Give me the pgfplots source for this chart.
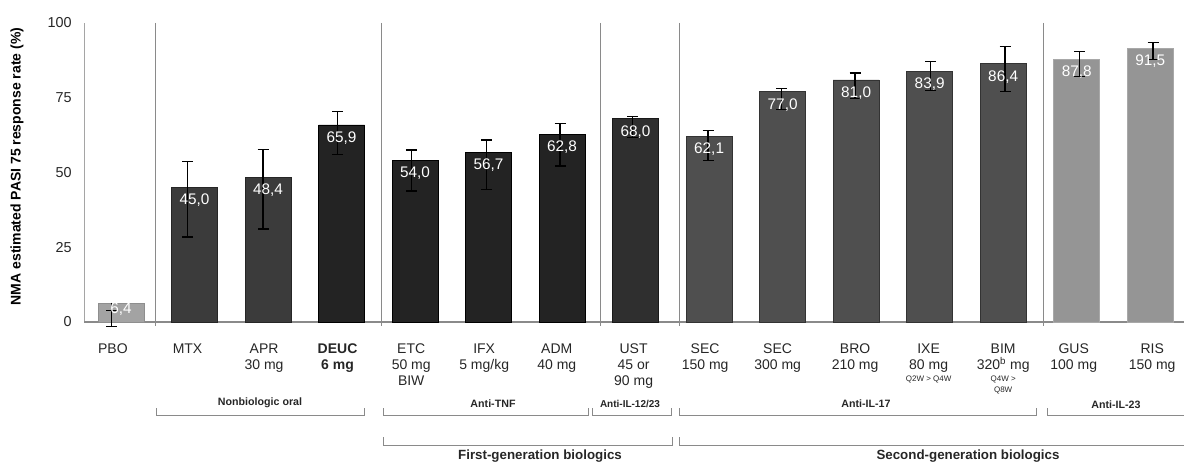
\documentclass[border=0pt]{standalone}
\usepackage{pgfplots}
\pgfplotsset{compat=1.18}
\usetikzlibrary{arrows.meta}
\usepackage{fontspec}
\setmainfont{Liberation Sans}

% bar shades
\definecolor{cPBO}{HTML}{A3A3A3}
\definecolor{cPBOedge}{HTML}{8E8E8E}
\definecolor{cOral}{HTML}{3B3B3B}
\definecolor{cDark}{HTML}{232323}
\definecolor{cUST}{HTML}{2F2F2F}
\definecolor{cIL17}{HTML}{4F4F4F}
\definecolor{cIL23}{HTML}{959595}
\definecolor{cIL23edge}{HTML}{A8A8A8}
\definecolor{cRule}{HTML}{8A8A8A}
\definecolor{cRuleLight}{HTML}{A5A5A5}

\pgfplotsset{
  valbar/.style={
    ybar, bar width=34.5pt, bar shift=0pt,
    nodes near coords={\pgfmathprintnumber[fixed,fixed zerofill,precision=1,use comma,assume math mode=true]{\pgfplotspointmeta}},
    every node near coord/.append style={anchor=center, text=white,
      font=\fontsize{11.5}{13}\selectfont, yshift=#1},
  },
}

\begin{document}
\begin{tikzpicture}
\path[use as bounding box] (0,0) rectangle (888pt,348pt);
\begin{axis}[
  at={(63.19pt,106.5pt)}, anchor=south west,
  scale only axis, width=824.8pt, height=224.25pt,
  xmin=-0.5, xmax=14.46, ymin=0, ymax=100,
  clip=false,
  axis line style={draw=none},
  major tick length=0pt,
  ytick={0,25,50,75,100},
  xtick={-0.11,0.905,1.946,2.946,3.948,4.94,5.928,6.973,7.946,8.932,9.986,10.986,12.0,12.96,14.027},
  xticklabels={
    PBO,
    MTX,
    {APR\\30 mg},
    {\textbf{DEUC}\\\textbf{6 mg}},
    {ETC\\50 mg\\BIW},
    {IFX\\5 mg/kg},
    {ADM\\40 mg},
    {UST\\45 or\\90 mg},
    {SEC\\150 mg},
    {SEC\\300 mg},
    {BRO\\210 mg},
    {IXE\\80 mg\\[-3pt]{\fontsize{6}{7}\selectfont Q2W > Q4W}},
    {BIM\\320\textsuperscript{b} mg\\[-3pt]{\fontsize{6}{7}\selectfont Q4W >}\\[-4pt]{\fontsize{6}{7}\selectfont Q8W}},
    {GUS\\100 mg},
    {RIS\\150 mg}
  },
  xticklabel style={align=center, anchor=north, font=\fontsize{10.5}{12}\selectfont, yshift=-13pt, text=black!85},
  yticklabel style={font=\fontsize{10.8}{13}\selectfont, xshift=-6pt, text=black!85},
  /pgf/number format/assume math mode=true,
  ylabel={NMA estimated PASI 75 response rate (\%)},
  every axis y label/.style={at={(axis description cs:-0.0612,0.52)}, rotate=90, anchor=center,
    font=\bfseries\fontsize{10.5}{12}\selectfont},
]

% axis lines
\draw[cRuleLight, line width=0.8pt] (axis cs:-0.5,0) -- (axis cs:-0.5,100);
\draw[cRule, line width=0.8pt] (axis cs:-0.5,0) -- (axis cs:14.6,0);

% group separators
\draw[cRule, line width=0.8pt] (axis cs:0.463,100) -- (axis cs:0.463,-1.4);
\draw[cRule, line width=0.8pt] (axis cs:3.54,100) -- (axis cs:3.54,-1.4);
\draw[cRule, line width=0.8pt] (axis cs:6.52,100) -- (axis cs:6.52,-1.4);
\draw[cRule, line width=0.8pt] (axis cs:7.6,100) -- (axis cs:7.6,-1.4);
\draw[cRule, line width=0.8pt] (axis cs:12.55,100) -- (axis cs:12.55,-1.4);

% bars
\addplot[valbar=-4.5pt, fill=cPBO, draw=cPBOedge] coordinates {(0,6.4)};
\addplot[valbar=-9.75pt, fill=cOral, draw=black!85] coordinates {(1,45.0) (2,48.4)};
\addplot[valbar=-9.75pt, fill=cDark, draw=black] coordinates {(3,65.9) (4,54.0) (5,56.7) (6,62.8)};
\addplot[valbar=-9.75pt, fill=cUST, draw=black!90] coordinates {(7,68.0)};
\addplot[valbar=-9.75pt, fill=cIL17, draw=black!80] coordinates {(8,62.1) (9,77.0) (10,81.0) (11,83.9) (12,86.4)};
\addplot[valbar=-9.75pt, fill=cIL23, draw=cIL23edge] coordinates {(13,87.8) (14,91.5)};

% 95% credible intervals, capped at both ends
\addplot[draw=none,
  error bars/.cd, y dir=both, y explicit,
  error mark=none,
  error bar style={draw=black, line width=1pt, -{Bar[width=8.2pt, line width=1pt]}}]
coordinates {
  (-0.13,6.4)  += (0,-2.7) -= (0,8.2)
  (0.905,45.0) += (0,8.8)  -= (0,16.8)
  (1.932,48.4) += (0,9.6)  -= (0,17.5)
  (2.946,65.9) += (0,4.8)  -= (0,10.0)
  (3.948,54.0) += (0,3.8)  -= (0,10.4)
  (4.973,56.7) += (0,4.4)  -= (0,12.6)
  (5.973,62.8) += (0,3.9)  -= (0,10.9)
  (6.96,68.0)  += (0,1.0)  -= (0,6.6)
  (7.986,62.1) += (0,2.1)  -= (0,8.3)
  (8.986,77.0) += (0,1.4)  -= (0,6.1)
  (9.986,81.0) += (0,2.5)  -= (0,6.5)
  (11.014,83.9) += (0,3.5) -= (0,6.6)
  (12.027,86.4) += (0,5.9) -= (0,9.6)
  (13.04,87.8) += (0,2.9)  -= (0,6.0)
  (14.04,91.5) += (0,2.1)  -= (0,3.9)
};
\end{axis}

% class brackets below the categories
\begin{scope}[x=0.75pt, y=-0.75pt, yshift=348pt, line width=0.75pt]
  \tikzset{grp/.style={font=\bfseries\fontsize{8}{9}\selectfont, text=black!85, inner sep=0pt}}
  % first row
  \draw[cRule] (156.7,408) -- (156.7,415.7) -- (364.3,415.7) -- (364.3,408);
  \draw[cRule] (383.3,408) -- (383.3,415.7) -- (588.3,415.7) -- (588.3,408);
  \draw[cRule] (592.7,408) -- (592.7,415.7) -- (671,415.7) -- (671,408);
  \draw[cRule] (679,408) -- (679,415.7) -- (1036.7,415.7) -- (1036.7,408);
  \draw[cRule] (1047.7,408) -- (1047.7,415.7) -- (1200,415.7);
  \node[grp] at (260,403) {Nonbiologic oral};
  \node[grp] at (493,404) {Anti-TNF};
  \node[grp, font=\bfseries\fontsize{7.5}{9}\selectfont] at (630,404) {Anti-IL-12/23};
  \node[grp] at (866,404) {Anti-IL-17};
  \node[grp] at (1116,405) {Anti-IL-23};
  % second row
  \draw[cRule] (383.3,437) -- (383.3,445) -- (672.7,445) -- (672.7,437);
  \draw[cRule] (679,437) -- (679,445) -- (1300,445);
  \node[grp, font=\bfseries\fontsize{10}{12}\selectfont] at (540,456.5) {First-generation biologics};
  \node[grp, font=\bfseries\fontsize{10}{12}\selectfont] at (968,456.5) {Second-generation biologics};
\end{scope}
\end{tikzpicture}
\end{document}
